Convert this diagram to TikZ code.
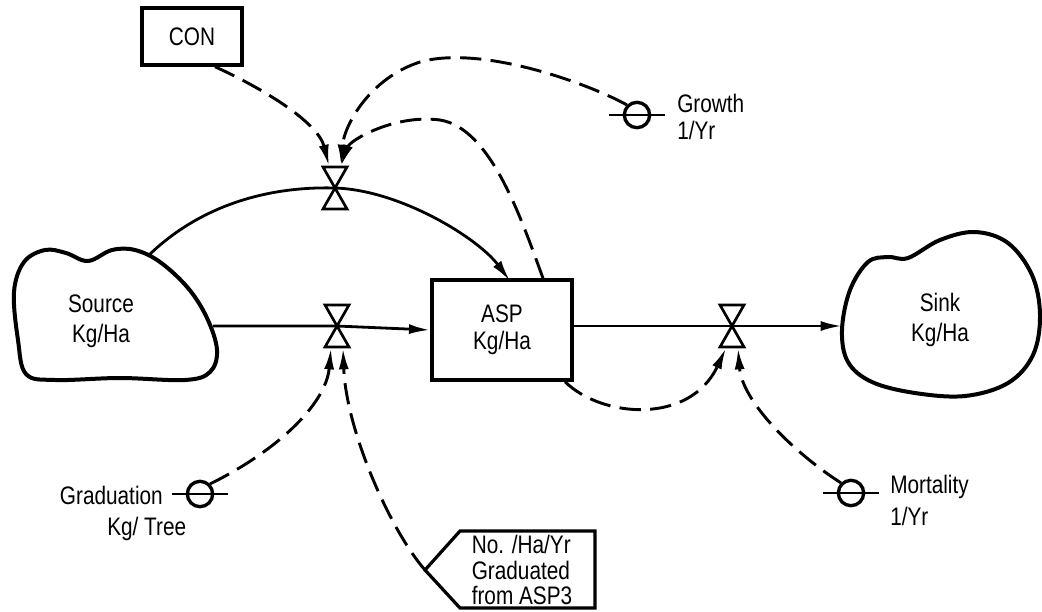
\documentclass[tikz,border=0pt]{standalone}
\usepackage{fontspec}
\setmainfont{Liberation Sans}[FakeStretch=0.82]
\usetikzlibrary{arrows.meta}

\tikzset{
  valve/.pic={
    \draw[line width=2pt, fill=white, line join=miter] (-12,-21) -- (12,-21) -- (0,0) -- cycle;
    \draw[line width=2pt, fill=white, line join=miter] (-12,21) -- (12,21) -- (0,0) -- cycle;
    \coordinate (-c) at (0,0);
    \coordinate (-tl) at (-6,-22);
    \coordinate (-tr) at (6,-22);
    \coordinate (-bl) at (-6,22);
    \coordinate (-br) at (6,22);
  }
}

\begin{document}
\begin{tikzpicture}[x=0.75pt, y=-0.75pt,
  lbl/.style={font=\fontsize{19}{22.5}\selectfont, inner sep=0pt},
  stockbox/.style={draw, line width=2.6pt, fill=white, inner sep=0pt,
                   font=\fontsize{19}{20}\selectfont, align=center},
  cloudline/.style={line width=3pt, line join=round},
  flow/.style={line width=2.1pt},
  info/.style={line width=2.2pt, dash pattern=on 16pt off 7pt},
  tip/.style={-{Latex[length=16pt, width=7.5pt]}},
  param/.style={draw, circle, line width=2.5pt, minimum size=19pt, inner sep=0pt},
  bar/.style={line width=1.8pt}
]
\useasboundingbox (0,0) rectangle (1042,611);

% ---- stocks ----
\node[stockbox, minimum width=75pt, minimum height=42.75pt] (con) at (192,36.5) {CON};
\node[stockbox, minimum width=105pt, minimum height=75pt] (asp) at (502,330) {ASP\\Kg/Ha};

% ---- source and sink clouds ----
\draw[cloudline] plot[smooth cycle, tension=0.6] coordinates {
  (14,292) (24,262) (45,250) (66,253) (88,261) (112,250) (135,250) (160,262)
  (188,288) (207,318) (217,350) (210,372) (185,380) (120,378) (55,380) (26,374) (18,340)};
\node[lbl, align=center] (src) at (101,321) {Source\\Kg/Ha};
\coordinate (srcR) at (213,326);
\coordinate (srcTop) at (148,256);

\draw[cloudline] plot[smooth cycle, tension=0.6] coordinates {
  (842,330) (850,290) (868,262) (888,257) (908,258) (940,240) (975,232) (1008,243)
  (1032,275) (1040,315) (1033,355) (1008,383) (965,396) (915,393) (872,382) (848,362)};
\node[lbl, align=center] (sink) at (940,320) {Sink\\Kg/Ha};
\coordinate (sinkL) at (842,326);

% ---- material flows ----
\draw[flow] (srcTop) .. controls (195,210) and (260,186) .. (335,188);
\draw[flow, tip] (335,188) .. controls (400,190) and (478,238) .. (510,281);
\draw[flow, tip] (srcR) -- (337,326) -- (asp.west);
\draw[flow, tip] (asp.east |- 0,326) -- (732,326) -- (sinkL);

% ---- valves ----
\pic (v1) at (335,188) {valve};
\pic (v2) at (337,326) {valve};
\pic (v3) at (732,326) {valve};

% ---- auxiliary parameters ----
\node[param] (gr) at (637,115) {};
\draw[bar] ([xshift=-10pt]gr.west) -- ([xshift=10pt]gr.east);
\node[lbl, anchor=base west] (grA) at (677,112) {Growth};
\node[lbl, anchor=base west] (grB) at (677,139) {1/Yr};

\node[param] (mo) at (851,493) {};
\draw[bar] ([xshift=-10pt]mo.west) -- ([xshift=10pt]mo.east);
\node[lbl, anchor=base west] (moA) at (890,493) {Mortality};
\node[lbl, anchor=base west] (moB) at (890,525) {1/Yr};

\node[param] (gd) at (200,494) {};
\draw[bar] ([xshift=-10pt]gd.west) -- ([xshift=10pt]gd.east);
\node[lbl, anchor=base east] (gdA) at (163,504) {Graduation};
\node[lbl, anchor=base west] (gdB) at (107,535) {Kg/ Tree};

% ---- external input tag ----
\coordinate (tagtip) at (425,570);
\draw[line width=2.4pt, line join=miter] (tagtip) -- (460,531) -- (595,531) -- (595,608) -- (460,608) -- cycle;
\node[lbl, align=left, font=\fontsize{19}{19}\selectfont] (tag) at (522,570) {No. /Ha/Yr\\Graduated\\from ASP3};

% ---- information links ----
\draw[info, tip] (con.south -| 215,0) .. controls (262,88) and (318,122) .. (v1-tl);
\draw[info, tip] (gr.north west) .. controls (585,82) and (480,45) .. (420,62)
                 .. controls (370,78) and (344,125) .. (v1-tr);
\draw[info, tip] (asp.north -| 543,0) .. controls (520,215) and (490,128) .. (440,120)
                 .. controls (395,114) and (350,140) .. (v1-tr);
\draw[info, tip] (gd.north east) .. controls (275,452) and (326,405) .. (v2-bl);
\draw[info, tip] (tagtip) .. controls (390,530) and (346,430) .. (v2-br);
\draw[info, tip] (asp.south -| 565,0) .. controls (602,418) and (690,425) .. (v3-bl);
\draw[info, tip] (mo.north west) .. controls (790,450) and (742,400) .. (v3-br);
\end{tikzpicture}
\end{document}
